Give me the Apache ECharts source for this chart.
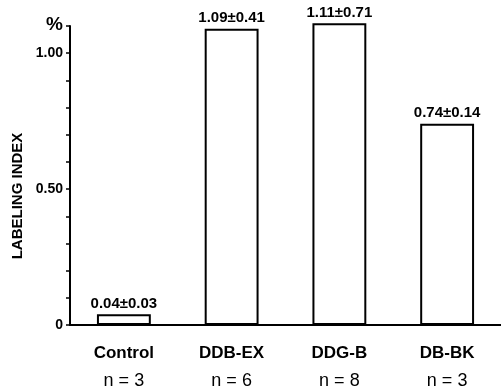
<!DOCTYPE html>
<html>
<head>
<meta charset="utf-8">
<script src="https://cdn.jsdelivr.net/npm/echarts@6/dist/echarts.min.js"></script>
<style>
  html, body { margin: 0; padding: 0; background: #fff; }
  #chart { width: 501px; height: 390px; }
</style>
</head>
<body>
<div id="chart"></div>
<script>
// data
const groups = ['Control', 'DDB-EX', 'DDG-B', 'DB-BK'];
const counts = [3, 6, 8, 3];
const means = [0.04, 1.09, 1.11, 0.74];
const sds = [0.03, 0.41, 0.71, 0.14];
const yLabels = { '0': '0', '0.5': '0.50', '1': '1.00' };

const font = '"Liberation Sans", Arial, Helvetica, sans-serif';

const myChart = echarts.init(document.getElementById('chart'));

const options = {
  animation: false,
  backgroundColor: '#fff',
  textStyle: { fontFamily: font, color: '#000' },
  grid: { left: 70, top: 26, bottom: 65, width: 433 },
  xAxis: {
    type: 'category',
    data: groups,
    axisLine: { lineStyle: { color: '#000', width: 2 } },
    axisTick: { show: false },
    axisLabel: {
      margin: 14,
      formatter: function (v, i) {
        return '{a|' + v + '}\n{b|n = ' + counts[i] + '}';
      },
      rich: {
        a: { fontFamily: font, fontWeight: 'bold', fontSize: 17, color: '#000', lineHeight: 28 },
        b: { fontFamily: font, fontSize: 18, color: '#000', lineHeight: 28 }
      }
    }
  },
  yAxis: {
    type: 'value',
    min: 0,
    max: 1.1,
    interval: 0.1,
    splitLine: { show: false },
    axisLine: { show: true, lineStyle: { color: '#000', width: 2 } },
    axisTick: { show: true, length: 4, lineStyle: { color: '#000', width: 1.5 } },
    axisLabel: {
      margin: 7,
      fontWeight: 'bold',
      fontSize: 14,
      color: '#000',
      fontFamily: font,
      formatter: function (v) {
        const k = String(Math.round(v * 10) / 10);
        return yLabels[k] || '';
      }
    }
  },
  graphic: [
    {
      type: 'text', left: 46, top: 15,
      style: { text: '%', font: 'bold 19px ' + font, fill: '#000' }
    },
    {
      type: 'text', x: 18, y: 196, rotation: Math.PI / 2,
      style: {
        text: 'LABELING INDEX', font: 'bold 15px ' + font, fill: '#000',
        align: 'center', verticalAlign: 'middle'
      }
    }
  ],
  series: [{
    type: 'bar',
    data: means,
    barWidth: '50%',
    clip: false,
    itemStyle: { color: '#fff', borderColor: '#000', borderWidth: 2 },
    label: {
      show: true,
      position: 'top',
      distance: 3,
      fontSize: 15,
      fontWeight: 'bold',
      fontFamily: font,
      color: '#000',
      formatter: function (p) {
        return means[p.dataIndex].toFixed(2) + '\u00b1' + sds[p.dataIndex].toFixed(2);
      }
    }
  }]
};

myChart.setOption(options);
</script>
</body>
</html>
